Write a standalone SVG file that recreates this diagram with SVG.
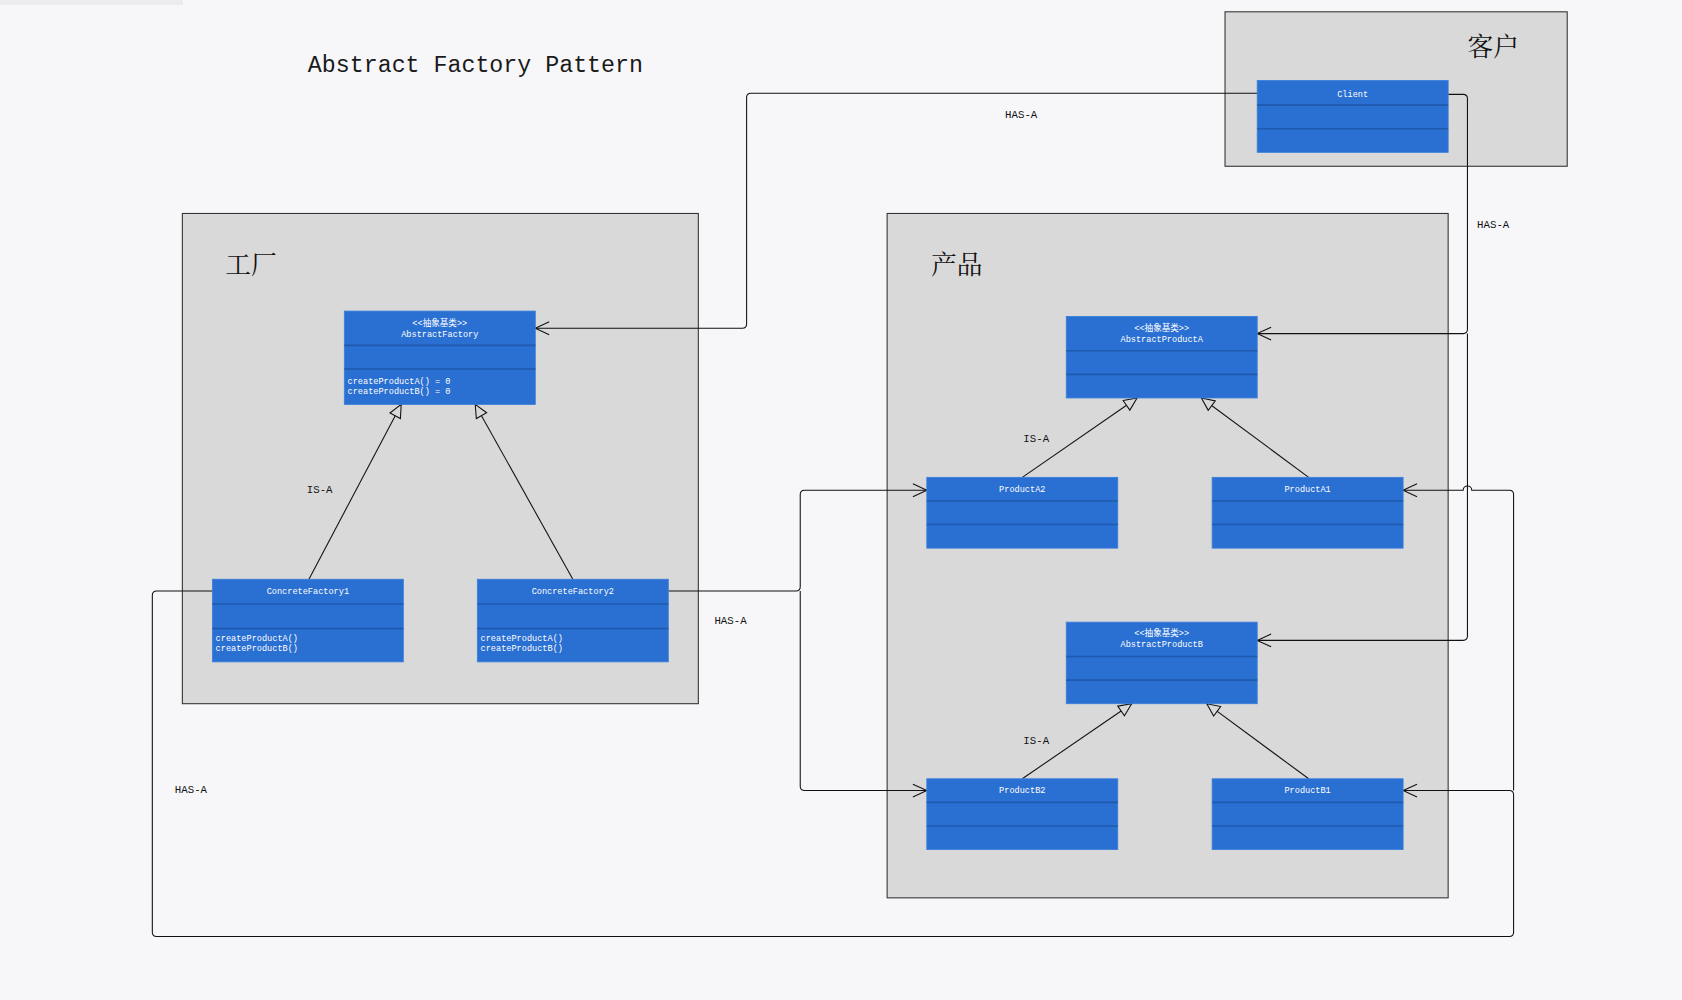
<svg xmlns="http://www.w3.org/2000/svg" width="1682" height="1000" viewBox="0 0 1682 1000">
<defs>
<style>
.bg{fill:#f7f7f9}
.pkg{fill:#d9d9d9;stroke:#333;stroke-width:1}
.pkgt{font-family:"Noto Serif CJK SC","Noto Sans CJK SC",serif;font-size:24px;fill:#111}
.cls{fill:#2a6fd2;stroke:#3b7fdc;stroke-width:0.8}
.sep{stroke:#1f5aae;stroke-width:1.5}
.ct{font-family:"Liberation Mono","Noto Sans CJK SC",monospace;font-size:8px;fill:#fff}
.cm{font-family:"Liberation Mono","Noto Sans CJK SC",monospace;font-size:8px;fill:#fff}
.lbl{font-family:"Liberation Mono",monospace;font-size:10px;fill:#111}
.title{font-family:"Liberation Mono",monospace;font-size:21.7px;fill:#1a1a1a}
.has{fill:none;stroke:#111;stroke-width:1}
.isa{fill:none;stroke:#111;stroke-width:1}
</style>
<marker id="open" markerUnits="userSpaceOnUse" markerWidth="16" markerHeight="16" refX="14" refY="8" orient="auto" viewBox="0 0 16 16">
<path d="M1,2 L14,8 L1,14" fill="none" stroke="#111" stroke-width="1"/>
</marker>
<marker id="tri" markerUnits="userSpaceOnUse" markerWidth="16" markerHeight="16" refX="14" refY="8" orient="auto" viewBox="0 0 16 16">
<path d="M2,2.5 L14,8 L2,13.5 Z" fill="#d9d9d9" stroke="#111" stroke-width="1"/>
</marker>
</defs>
<rect class="bg" x="0" y="0" width="1682" height="1000"/>
<rect x="0" y="0" width="183" height="5" fill="#ececef"/>
<g transform="scale(1.0727)">
<text class="title" x="287" y="67">Abstract Factory Pattern</text>

<g id="pkg-factory">
<rect class="pkg" x="170" y="199" width="481" height="457"/>
<text class="pkgt" x="210" y="255">工厂</text>
</g>
<g id="pkg-product">
<rect class="pkg" x="827" y="199" width="523" height="638"/>
<text class="pkgt" x="868" y="255">产品</text>
</g>
<g id="pkg-client">
<rect class="pkg" x="1142" y="11" width="319" height="144"/>
<text class="pkgt" x="1368" y="52">客户</text>
</g>

<g id="connectors">
<path class="has" d="M1172,87 H700 Q696,87 696,91 V302 Q696,306 692,306 H499" marker-end="url(#open)"/>
<path class="has" d="M1350,88 H1364 Q1368,88 1368,92 V307 Q1368,311 1364,311 H1172" marker-end="url(#open)"/>
<path class="has" d="M1368,311 V593 Q1368,597 1364,597 H1172" marker-end="url(#open)"/>
<path class="has" d="M198,551 H146 Q142,551 142,555 V869 Q142,873 146,873 H1407 Q1411,873 1411,869 V741 Q1411,737 1407,737 H1308" marker-end="url(#open)"/>
<path class="has" d="M1411,737 V461 Q1411,457 1407,457 H1372 A4,4 0 0 0 1364,457 H1308" marker-end="url(#open)"/>
<path class="has" d="M623,551 H742 Q746,551 746,547 V461 Q746,457 750,457 H864" marker-end="url(#open)"/>
<path class="has" d="M746,551 V733 Q746,737 750,737 H864" marker-end="url(#open)"/>
<path class="isa" d="M288,540 L374,377" marker-end="url(#tri)"/>
<path class="isa" d="M534,540 L443,377" marker-end="url(#tri)"/>
<path class="isa" d="M953,445 L1060,371" marker-end="url(#tri)"/>
<path class="isa" d="M1220,445 L1120,371" marker-end="url(#tri)"/>
<path class="isa" d="M953,726 L1055,656" marker-end="url(#tri)"/>
<path class="isa" d="M1220,726 L1125,656" marker-end="url(#tri)"/>
<text class="lbl" x="937" y="110">HAS-A</text>
<text class="lbl" x="1377" y="213">HAS-A</text>
<text class="lbl" x="666" y="582">HAS-A</text>
<text class="lbl" x="163" y="739">HAS-A</text>
<text class="lbl" x="286" y="460">IS-A</text>
<text class="lbl" x="954" y="412">IS-A</text>
<text class="lbl" x="954" y="694">IS-A</text>
</g>

<g id="AbstractFactory">
<rect class="cls" x="321" y="290" width="178" height="87"/>
<line class="sep" x1="321" y1="322" x2="499" y2="322"/>
<line class="sep" x1="321" y1="344" x2="499" y2="344"/>
<text class="ct" x="410" y="304" text-anchor="middle">&lt;&lt;抽象基类&gt;&gt;</text>
<text class="ct" x="410" y="314" text-anchor="middle">AbstractFactory</text>
<text class="cm" x="324" y="358">createProductA() = 0</text>
<text class="cm" x="324" y="367">createProductB() = 0</text>
</g>
<g id="ConcreteFactory1">
<rect class="cls" x="198" y="540" width="178" height="77"/>
<line class="sep" x1="198" y1="563" x2="376" y2="563"/>
<line class="sep" x1="198" y1="586" x2="376" y2="586"/>
<text class="ct" x="287" y="554" text-anchor="middle">ConcreteFactory1</text>
<text class="cm" x="201" y="598">createProductA()</text>
<text class="cm" x="201" y="607">createProductB()</text>
</g>
<g id="ConcreteFactory2">
<rect class="cls" x="445" y="540" width="178" height="77"/>
<line class="sep" x1="445" y1="563" x2="623" y2="563"/>
<line class="sep" x1="445" y1="586" x2="623" y2="586"/>
<text class="ct" x="534" y="554" text-anchor="middle">ConcreteFactory2</text>
<text class="cm" x="448" y="598">createProductA()</text>
<text class="cm" x="448" y="607">createProductB()</text>
</g>
<g id="Client">
<rect class="cls" x="1172" y="75" width="178" height="67"/>
<line class="sep" x1="1172" y1="98" x2="1350" y2="98"/>
<line class="sep" x1="1172" y1="120" x2="1350" y2="120"/>
<text class="ct" x="1261" y="90" text-anchor="middle">Client</text>
</g>
<g id="AbstractProductA">
<rect class="cls" x="994" y="295" width="178" height="76"/>
<line class="sep" x1="994" y1="327" x2="1172" y2="327"/>
<line class="sep" x1="994" y1="349" x2="1172" y2="349"/>
<text class="ct" x="1083" y="309" text-anchor="middle">&lt;&lt;抽象基类&gt;&gt;</text>
<text class="ct" x="1083" y="319" text-anchor="middle">AbstractProductA</text>
</g>
<g id="ProductA2">
<rect class="cls" x="864" y="445" width="178" height="66"/>
<line class="sep" x1="864" y1="467" x2="1042" y2="467"/>
<line class="sep" x1="864" y1="489" x2="1042" y2="489"/>
<text class="ct" x="953" y="459" text-anchor="middle">ProductA2</text>
</g>
<g id="ProductA1">
<rect class="cls" x="1130" y="445" width="178" height="66"/>
<line class="sep" x1="1130" y1="467" x2="1308" y2="467"/>
<line class="sep" x1="1130" y1="489" x2="1308" y2="489"/>
<text class="ct" x="1219" y="459" text-anchor="middle">ProductA1</text>
</g>
<g id="AbstractProductB">
<rect class="cls" x="994" y="580" width="178" height="76"/>
<line class="sep" x1="994" y1="612" x2="1172" y2="612"/>
<line class="sep" x1="994" y1="634" x2="1172" y2="634"/>
<text class="ct" x="1083" y="593" text-anchor="middle">&lt;&lt;抽象基类&gt;&gt;</text>
<text class="ct" x="1083" y="603" text-anchor="middle">AbstractProductB</text>
</g>
<g id="ProductB2">
<rect class="cls" x="864" y="726" width="178" height="66"/>
<line class="sep" x1="864" y1="748" x2="1042" y2="748"/>
<line class="sep" x1="864" y1="770" x2="1042" y2="770"/>
<text class="ct" x="953" y="739" text-anchor="middle">ProductB2</text>
</g>
<g id="ProductB1">
<rect class="cls" x="1130" y="726" width="178" height="66"/>
<line class="sep" x1="1130" y1="748" x2="1308" y2="748"/>
<line class="sep" x1="1130" y1="770" x2="1308" y2="770"/>
<text class="ct" x="1219" y="739" text-anchor="middle">ProductB1</text>
</g>
</g>
</svg>
